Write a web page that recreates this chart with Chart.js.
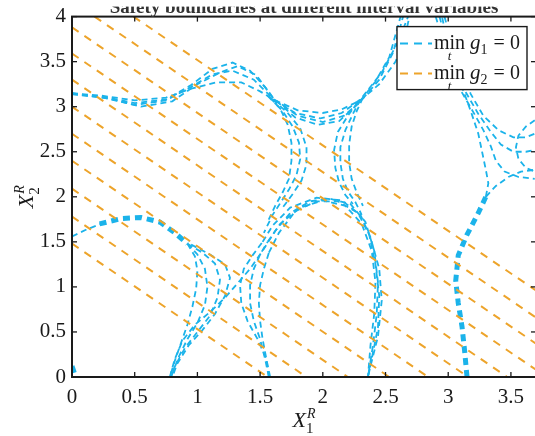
<!DOCTYPE html>
<html>
<head>
<meta charset="utf-8">
<script src="https://cdn.jsdelivr.net/npm/chart.js@4.4.0/dist/chart.umd.min.js"></script>
<style>
  html, body { margin: 0; padding: 0; background: #fff; overflow: hidden; width: 535px; height: 436px; }
  #wrap { position: absolute; left: 0; top: 0; }
</style>
</head>
<body>
<div id="wrap"><canvas id="c" width="545" height="436"></canvas></div>
<script>
// axis ticks
var xTicks = [0, 0.5, 1, 1.5, 2, 2.5, 3, 3.5];
var xTickLabels = ["0", "0.5", "1", "1.5", "2", "2.5", "3", "3.5"];
var yTicks = [0, 0.5, 1, 1.5, 2, 2.5, 3, 3.5, 4];
var yTickLabels = ["0", "0.5", "1", "1.5", "2", "2.5", "3", "3.5", "4"];

var titleText = "Safety boundaries at different interval variables";

// min g2 = 0 : straight boundaries, [x0, y0, x1, y1]
var g2Lines = [
  [0.49, 4.0, 3.7, 0.96],
  [0.18, 4.0, 3.7, 0.66],
  [0, 3.88, 3.7, 0.37],
  [0, 3.59, 3.7, 0.08],
  [0, 3.30, 3.47, 0],
  [0, 3.00, 3.16, 0],
  [0, 2.70, 2.84, 0],
  [0, 2.40, 2.53, 0],
  [0, 2.09, 2.20, 0],
  [0, 1.78, 1.87, 0],
  [0, 1.48, 1.56, 0]
];

// min g1 = 0 : traced curves [x, y]
var waveA = [[0,3.15],[0.25,3.12],[0.5,3.07],[0.75,3.1],[0.95,3.2],[1.15,3.27],[1.35,3.27],[1.5,3.17],[1.62,3.07],[1.8,2.96],[2.0,2.93],[2.15,2.97],[2.3,3.07],[2.45,3.25],[2.58,3.5],[2.66,3.8],[2.69,4.0]];
var waveB = [[0,3.14],[0.25,3.11],[0.5,3.04],[0.75,3.08],[0.95,3.24],[1.12,3.42],[1.28,3.49],[1.42,3.4],[1.55,3.2],[1.62,3.07],[1.8,2.9],[2.0,2.83],[2.17,2.9],[2.3,3.06],[2.45,3.3],[2.56,3.6],[2.64,4.0]];
var waveC = [[0,3.15],[0.25,3.1],[0.5,3.02],[0.75,3.07],[0.95,3.22],[1.12,3.36],[1.28,3.4],[1.45,3.3],[1.6,3.09],[1.78,2.93],[1.98,2.87],[2.15,2.93],[2.3,3.08],[2.47,3.38],[2.6,3.72],[2.68,4.0]];
var waveD = [[0,3.14],[0.3,3.09],[0.55,3.0],[0.8,3.06],[1.0,3.25],[1.18,3.38],[1.32,3.45],[1.47,3.35],[1.6,3.1],[1.78,2.88],[1.96,2.8],[2.13,2.84],[2.28,3.03],[2.42,3.28],[2.53,3.55],[2.62,4.0]];

var neckL1 = [[1.58,3.1],[1.68,2.95],[1.76,2.78],[1.81,2.6],[1.82,2.42],[1.79,2.24],[1.73,2.08],[1.67,1.95],[1.6,1.8],[1.53,1.6]];
var neckL2 = [[1.6,3.08],[1.72,2.93],[1.82,2.76],[1.87,2.55],[1.87,2.36],[1.83,2.18],[1.76,2.03],[1.68,1.88]];
var neckL3 = [[1.56,3.12],[1.66,2.98],[1.72,2.8],[1.75,2.6],[1.75,2.4],[1.73,2.2],[1.68,2.05],[1.62,1.9],[1.56,1.72]];
var neckR1 = [[2.3,3.08],[2.24,2.92],[2.18,2.74],[2.14,2.55],[2.14,2.38],[2.16,2.2],[2.2,2.06],[2.26,1.94],[2.31,1.8]];
var neckR2 = [[2.28,3.05],[2.2,2.9],[2.12,2.72],[2.09,2.52],[2.1,2.32],[2.13,2.16],[2.18,2.02],[2.24,1.92]];
var neckR3 = [[2.32,3.1],[2.27,2.95],[2.23,2.78],[2.21,2.58],[2.21,2.38],[2.23,2.2],[2.27,2.05],[2.32,1.9]];

var archBL = [[0.78,0],[0.82,0.2],[0.88,0.4],[0.98,0.58],[1.1,0.72],[1.22,0.88],[1.32,1.04],[1.42,1.2],[1.52,1.4],[1.62,1.62],[1.74,1.82],[1.9,1.95],[2.05,1.98],[2.22,1.92],[2.34,1.72],[2.41,1.4],[2.44,1.05],[2.43,0.7],[2.4,0.35],[2.36,0]];
var archA = [[1.57,1.38],[1.65,1.6],[1.78,1.84],[1.95,1.95],[2.12,1.95],[2.28,1.82],[2.37,1.58],[2.42,1.25],[2.45,0.9],[2.44,0.55],[2.39,0.2],[2.36,0]];
var archB = [[1.56,1.5],[1.66,1.7],[1.82,1.88],[2.0,1.96],[2.18,1.9],[2.31,1.7],[2.39,1.4],[2.42,1.05],[2.41,0.7],[2.38,0.35],[2.36,0]];
var archC = [[1.52,1.5],[1.6,1.68],[1.74,1.88],[1.95,1.99],[2.15,1.96],[2.3,1.8],[2.38,1.55],[2.45,1.2],[2.47,0.85],[2.44,0.45],[2.38,0.12],[2.36,0]];

var lobeThin = [[0,1.56],[0.12,1.64],[0.25,1.71]];
var lobeThick = [[0.22,1.7],[0.4,1.76],[0.55,1.77],[0.7,1.72],[0.82,1.6],[0.92,1.48]];
var fanL1 = [[0.92,1.48],[1.0,1.36],[1.06,1.2],[1.08,1.0],[1.06,0.8],[1.0,0.6],[0.92,0.42],[0.85,0.22],[0.79,0]];
var fanL2 = [[0.92,1.48],[1.04,1.38],[1.14,1.26],[1.18,1.08],[1.16,0.88],[1.1,0.68],[1.0,0.5],[0.9,0.32],[0.82,0.12],[0.79,0]];
var fanL3 = [[0.92,1.48],[0.98,1.34],[1.0,1.18],[0.99,0.98],[0.96,0.78],[0.92,0.58],[0.87,0.38],[0.82,0.18],[0.78,0]];
var fanL4 = [[0.95,1.47],[1.1,1.36],[1.22,1.25],[1.26,1.1],[1.22,0.9],[1.14,0.7],[1.04,0.52],[0.93,0.35],[0.84,0.15],[0.8,0]];

var fanR1 = [[1.57,0],[1.55,0.2],[1.52,0.42],[1.5,0.62],[1.49,0.82],[1.5,1.02],[1.53,1.2],[1.57,1.38]];
var fanR2 = [[1.57,0],[1.54,0.2],[1.5,0.42],[1.45,0.62],[1.42,0.82],[1.42,1.02],[1.45,1.2],[1.5,1.36],[1.56,1.5]];
var fanR3 = [[1.58,0],[1.55,0.2],[1.48,0.42],[1.4,0.62],[1.35,0.82],[1.34,1.02],[1.37,1.2],[1.44,1.35],[1.52,1.5]];

var stemRight = [[3.15,0],[3.13,0.3],[3.11,0.56],[3.08,0.82],[3.06,1.07],[3.08,1.35],[3.15,1.58],[3.24,1.82],[3.3,2.0]];
var stemUp1 = [[3.3,2.0],[3.32,2.15],[3.3,2.3],[3.27,2.5],[3.24,2.7],[3.18,2.95],[3.12,3.18],[3.05,3.45],[2.99,3.75],[2.95,4.0]];
var stemUp2 = [[3.3,2.0],[3.38,2.12],[3.48,2.22],[3.58,2.28],[3.69,2.3]];
var rightA = [[2.93,4.0],[2.99,3.7],[3.06,3.42],[3.14,3.16],[3.24,2.92],[3.34,2.72],[3.42,2.58],[3.52,2.5],[3.62,2.5],[3.69,2.52]];
var rightB = [[2.97,4.0],[3.03,3.7],[3.1,3.42],[3.18,3.14],[3.28,2.9],[3.4,2.74],[3.52,2.66],[3.62,2.66],[3.69,2.7]];
var rightC = [[2.9,4.0],[2.96,3.72],[3.03,3.44],[3.1,3.18],[3.2,2.94],[3.28,2.74],[3.34,2.56],[3.38,2.4],[3.45,2.28],[3.56,2.22],[3.69,2.2]];
var curlRight = [[3.69,2.85],[3.62,2.78],[3.56,2.68],[3.54,2.55],[3.56,2.42],[3.62,2.32],[3.69,2.28]];
var cornerBit = [[0,0.12],[0.015,0.06],[0.03,0]];

var thinCurves = [waveA, waveB, waveC, waveD, neckL1, neckL2, neckL3, neckR1, neckR2, neckR3,
  archBL, archA, archB, archC, lobeThin, fanL1, fanL2, fanL3, fanL4, fanR1, fanR2, fanR3,
  stemUp1, stemUp2, rightA, rightB, rightC, curlRight];
var thickCurves = [lobeThick, stemRight, cornerBit];

var blue = "#1BB3EA";
var orange = "#EDA42B";
var serif = "'Liberation Serif', 'Times New Roman', serif";

function pts(arr) {
  return arr.map(function (p) { return { x: p[0], y: p[1] }; });
}

var datasets = [];
g2Lines.forEach(function (l) {
  datasets.push({
    data: [{ x: l[0], y: l[1] }, { x: l[2], y: l[3] }],
    borderColor: orange, borderWidth: 2, borderDash: [8, 7]
  });
});
thinCurves.forEach(function (c) {
  datasets.push({ data: pts(c), borderColor: blue, borderWidth: 1.8, borderDash: [6, 4] });
});
thickCurves.forEach(function (c) {
  datasets.push({ data: pts(c), borderColor: blue, borderWidth: 5, borderDash: [7, 5] });
});

function line(ctx, x0, y0, x1, y1) {
  ctx.beginPath(); ctx.moveTo(x0, y0); ctx.lineTo(x1, y1); ctx.stroke();
}

// symbol with subscript and superscript, left-aligned at x, baseline y
function drawSymbol(ctx, x, y, base, sub, sup, size) {
  ctx.textAlign = "left"; ctx.textBaseline = "alphabetic";
  ctx.font = "italic " + size + "px " + serif;
  ctx.fillText(base, x, y);
  var w = ctx.measureText(base).width;
  ctx.font = Math.round(size * 0.68) + "px " + serif;
  ctx.fillText(sub, x + w, y + size * 0.25);
  var ws = ctx.measureText(sub).width;
  var wp = 0;
  if (sup) {
    ctx.font = "italic " + Math.round(size * 0.62) + "px " + serif;
    ctx.fillText(sup, x + w + 1, y - size * 0.42);
    wp = ctx.measureText(sup).width + 1;
  }
  return w + Math.max(ws, wp);
}

function symbolWidth(ctx, base, sub, sup, size) {
  ctx.font = "italic " + size + "px " + serif;
  var w = ctx.measureText(base).width;
  ctx.font = Math.round(size * 0.68) + "px " + serif;
  var ws = ctx.measureText(sub).width;
  ctx.font = "italic " + Math.round(size * 0.62) + "px " + serif;
  var wp = ctx.measureText(sup).width + 1;
  return w + Math.max(ws, wp);
}

var framePlugin = {
  id: "frame",
  afterDraw: function (chart) {
    var ctx = chart.ctx, a = chart.chartArea;
    var xs = chart.scales.x, ys = chart.scales.y;
    ctx.save();
    ctx.setLineDash([]);
    ctx.strokeStyle = "#1a1a1a";
    ctx.fillStyle = "#1a1a1a";

    // inward ticks on all sides
    ctx.lineWidth = 1.3;
    xTicks.forEach(function (v) {
      var px = xs.getPixelForValue(v);
      line(ctx, px, a.bottom, px, a.bottom - 5);
      line(ctx, px, a.top, px, a.top + 5);
    });
    yTicks.forEach(function (v) {
      var py = ys.getPixelForValue(v);
      line(ctx, a.left, py, a.left + 5, py);
      line(ctx, a.right, py, a.right - 5, py);
    });
    ctx.lineWidth = 2;
    ctx.strokeRect(a.left, a.top, a.right - a.left, a.bottom - a.top);

    // title, its upper half hidden like in the exported figure
    ctx.font = "bold 19px " + serif;
    ctx.textAlign = "center"; ctx.textBaseline = "alphabetic";
    ctx.fillStyle = "#333";
    ctx.fillText(titleText, (a.left + a.right) / 2, a.top - 3.5);
    ctx.fillStyle = "#fff";
    ctx.fillRect(a.left + 20, 0, a.right - a.left - 40, a.top - 10);
    ctx.fillStyle = "#1a1a1a";

    // axis titles
    var size = 22;
    var wx = symbolWidth(ctx, "X", "1", "R", size);
    drawSymbol(ctx, (a.left + a.right) / 2 - wx / 2, a.bottom + 50, "X", "1", "R", size);
    var wy = symbolWidth(ctx, "X", "2", "R", size);
    ctx.save();
    ctx.translate(33, (a.top + a.bottom) / 2);
    ctx.rotate(-Math.PI / 2);
    drawSymbol(ctx, -wy / 2, 0, "X", "2", "R", size);
    ctx.restore();

    // legend
    var L = a.right - 139, R = a.right - 9, T = a.top + 10, B = a.top + 73;
    ctx.fillStyle = "#fff";
    ctx.fillRect(L, T, R - L, B - T);
    ctx.lineWidth = 1.4;
    ctx.strokeStyle = "#1a1a1a";
    ctx.strokeRect(L, T, R - L, B - T);
    var rows = [{ y: T + 17, c: blue, sub: "1" }, { y: T + 47, c: orange, sub: "2" }];
    rows.forEach(function (r) {
      ctx.strokeStyle = r.c; ctx.lineWidth = 2; ctx.setLineDash([8, 6]);
      line(ctx, L + 3, r.y, L + 35, r.y);
      ctx.setLineDash([]);
      ctx.fillStyle = "#1a1a1a";
      var x = L + 37, base = r.y + 5;
      ctx.textAlign = "left"; ctx.textBaseline = "alphabetic";
      ctx.font = "20px " + serif;
      ctx.fillText("min", x, base);
      var wm = ctx.measureText("min").width;
      ctx.font = "italic 13px " + serif;
      ctx.textAlign = "center";
      ctx.fillText("t", x + wm / 2, base + 11);
      ctx.textAlign = "left";
      x += wm + 5;
      x += drawSymbol(ctx, x, base, "g", r.sub, "", 21);
      ctx.font = "20px " + serif;
      ctx.fillText(" = 0", x + 1, base);
    });
    ctx.restore();
  }
};

var chart = new Chart(document.getElementById("c"), {
  type: "scatter",
  data: { datasets: datasets },
  plugins: [framePlugin],
  options: {
    responsive: false,
    animation: false,
    showLine: true,
    elements: { point: { radius: 0 }, line: { tension: 0 } },
    layout: { padding: { left: 0, right: 9, top: 0, bottom: 0 } },
    plugins: { legend: { display: false }, tooltip: { enabled: false }, title: { display: false } },
    scales: {
      x: {
        type: "linear", min: 0, max: 3.7,
        afterBuildTicks: function (s) { s.ticks = xTicks.map(function (v) { return { value: v }; }); },
        afterFit: function (s) { s.height = 57; },
        ticks: {
          autoSkip: false, maxRotation: 0, padding: 8, color: "#1a1a1a",
          font: { family: serif, size: 21 },
          callback: function (v) { var i = xTicks.indexOf(v); return i >= 0 ? xTickLabels[i] : ""; }
        },
        grid: { display: false, drawTicks: false },
        border: { display: false }
      },
      y: {
        type: "linear", min: 0, max: 4,
        afterBuildTicks: function (s) { s.ticks = yTicks.map(function (v) { return { value: v }; }); },
        afterFit: function (s) { s.width = 72; },
        ticks: {
          autoSkip: false, padding: 6, color: "#1a1a1a",
          font: { family: serif, size: 21 },
          callback: function (v) { var i = yTicks.indexOf(v); return i >= 0 ? yTickLabels[i] : ""; }
        },
        grid: { display: false, drawTicks: false },
        border: { display: false }
      }
    }
  }
});

// place the plot box where the figure has it (top edge at 17px)
document.getElementById("wrap").style.top = (17 - chart.chartArea.top) + "px";
</script>
</body>
</html>
